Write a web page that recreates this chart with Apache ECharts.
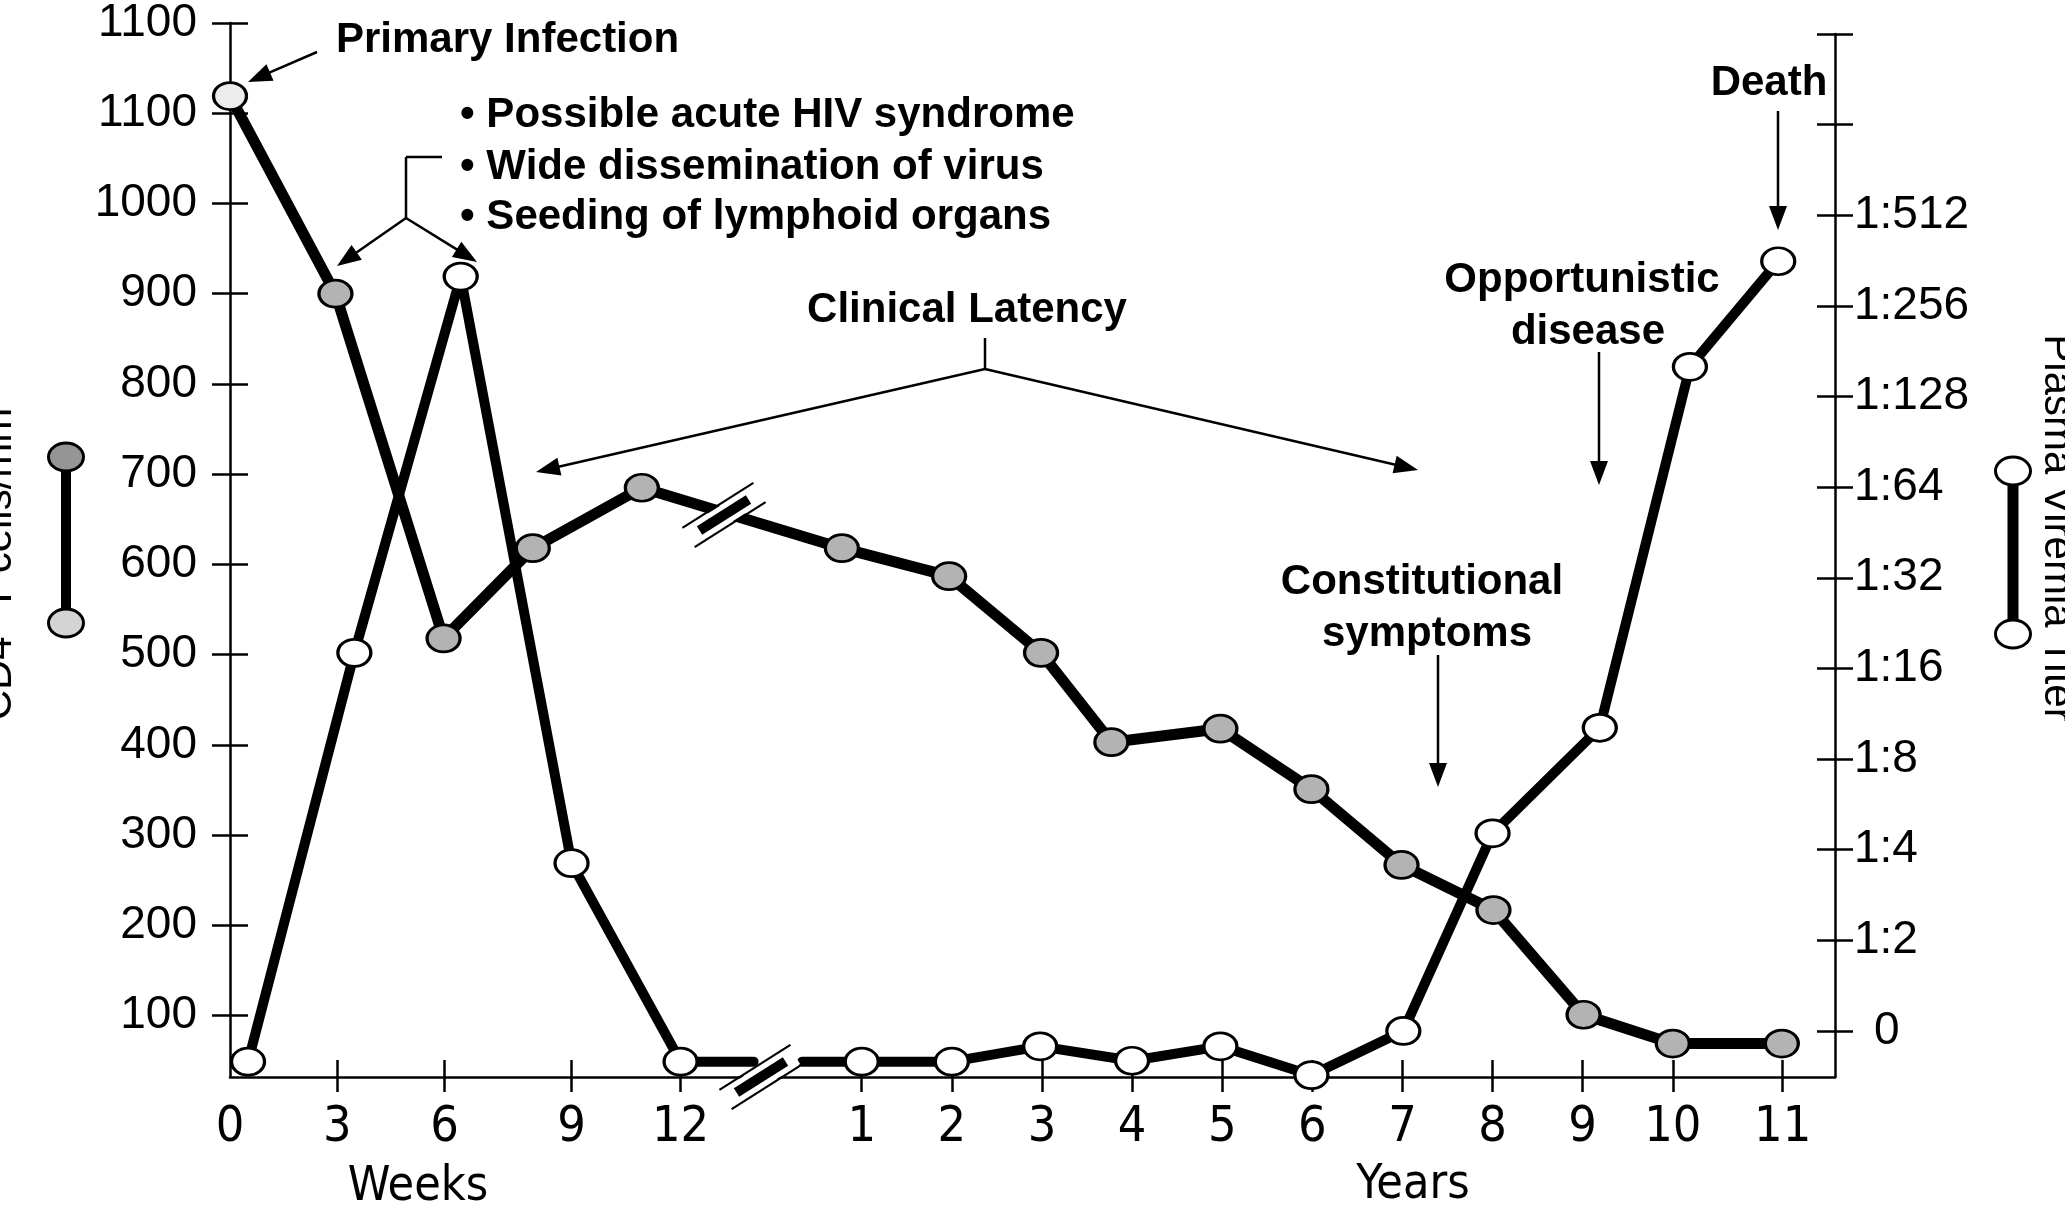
<!DOCTYPE html>
<html>
<head>
<meta charset="utf-8">
<script src="https://cdn.jsdelivr.net/npm/echarts@6/dist/echarts.min.js"></script>
<style>
  html, body { margin: 0; padding: 0; background: #fff; }
  #chart { width: 2065px; height: 1212px; }
</style>
</head>
<body>
<div id="chart"></div>
<script>
// broken time axis: years sit on whole numbers, the first 12 weeks are squeezed in left of the break
const xTickPos = [-6.01, -4.82, -3.63, -2.22, -1.01, 1, 2, 3, 4, 5, 6, 7, 8, 9, 10, 11.22];
const xTickLabels = ['0', '3', '6', '9', '12', '1', '2', '3', '4', '5', '6', '7', '8', '9', '10', '11'];

// left scale (the top label really says 1100 twice in the original)
const cd4Ticks = [100, 200, 300, 400, 500, 600, 700, 800, 900, 1000, 1100, 1200];
const cd4TickLabels = ['100', '200', '300', '400', '500', '600', '700', '800', '900', '1000', '1100', '1100'];

// right scale, doubling dilutions
const titerTicks = [0, 1, 2, 3, 4, 5, 6, 7, 8, 9, 10, 11];
const titerLabels = ['0', '1:2', '1:4', '1:8', '1:16', '1:32', '1:64', '1:128', '1:256', '1:512', '', ''];

// CD4+ T cells (shaded markers)
const cd4X = [-6.01, -4.84, -3.64, -2.65, -1.44, 0.78, 1.97, 2.99, 3.77, 4.98, 5.99, 6.99, 8.01, 9.01, 10.0, 11.21];
const cd4Y = [1119, 900, 518, 618, 685, 618, 587, 502, 403, 418, 351, 267, 217, 101, 69, 69];

// plasma viremia (white markers), plotted on the left scale like the original
const viralWeekX = [-5.81, -4.63, -3.45, -2.22, -1.01];
const viralWeekY = [49, 502, 919, 269, 49];
const viralYearX = [1, 2, 2.98, 4, 4.98, 5.99, 7.01, 8, 9.19, 10.19, 11.17];
const viralYearY = [49, 49, 66, 50, 66, 34, 83, 302, 419, 819, 936];

const FONT = '"Liberation Sans", Arial, Helvetica, sans-serif';
const NARROW = '"Liberation Sans Narrow", "DejaVu Sans Condensed", "Liberation Sans", Arial, sans-serif';
const X_MIN = -6.01, X_MAX = 11.80;
const BREAK_GAP = [-0.2, 0.34];   // where the viremia line stops/restarts at the break

const chart = echarts.init(document.getElementById('chart'));

const pairs = (xs, ys) => xs.map((x, i) => [x, ys[i]]);
const nearest = (arr, v) => {
  let best = 0;
  arr.forEach((a, i) => { if (Math.abs(a - v) < Math.abs(arr[best] - v)) best = i; });
  return best;
};

const tickStyle = { color: '#000', width: 2.5 };
const gridRect = { left: 230, right: 230, bottom: 135 };

const markerStyle = (fill) => ({ color: fill, borderColor: '#000', borderWidth: 3 });
const lineSeries = (name, data, fill, width) => ({
  name: name,
  type: 'line',
  xAxisIndex: 0,
  yAxisIndex: 0,
  data: data,
  symbol: 'circle',
  symbolSize: [33, 27],
  showAllSymbol: true,
  clip: false,
  itemStyle: markerStyle(fill),
  lineStyle: { color: '#000', width: width, cap: 'round', join: 'round' },
  emphasis: { disabled: true },
  silent: true
});

// cd4: first point is drawn almost white
const cd4Data = pairs(cd4X, cd4Y).map((p, i) =>
  i === 0 ? { value: p, itemStyle: { color: '#ececec' } } : p);

// viremia is interrupted at the axis break
const lastWeek = viralWeekY[viralWeekY.length - 1];
const viralA = pairs(viralWeekX, viralWeekY).concat([{ value: [BREAK_GAP[0], lastWeek], symbol: 'none' }]);
const viralB = [{ value: [BREAK_GAP[1], viralYearY[0]], symbol: 'none' }].concat(pairs(viralYearX, viralYearY));

// ---- annotation helpers (pixel space)
const g = [];
function seg(x1, y1, x2, y2, w, color) {
  g.push({ type: 'line', z: 100, silent: true, shape: { x1, y1, x2, y2 },
    style: { stroke: color || '#000', lineWidth: w || 2.5 } });
}
function arrow(x1, y1, x2, y2) {
  const dx = x2 - x1, dy = y2 - y1, L = Math.hypot(dx, dy);
  const ux = dx / L, uy = dy / L, hl = 24, hw = 9;
  const bx = x2 - ux * hl, by = y2 - uy * hl;
  seg(x1, y1, bx + ux * 2, by + uy * 2, 2.5);
  g.push({ type: 'polygon', z: 100, silent: true,
    shape: { points: [[x2, y2], [bx - uy * hw, by + ux * hw], [bx + uy * hw, by - ux * hw]] },
    style: { fill: '#000' } });
}
function label(text, x, y, size, weight, align, family) {
  g.push({ type: 'text', z: 100, silent: true, x: x, y: y,
    style: { text: text, fill: '#000', font: weight + ' ' + size + 'px ' + (family || FONT),
      align: align, verticalAlign: 'middle', textAlign: align, textVerticalAlign: 'middle' } });
}
function breakMark(cx, cy) {
  const d = [0.845, -0.535], n = [0.535, 0.845];
  const P = (a, b) => [cx + d[0] * a + n[0] * b, cy + d[1] * a + n[1] * b];
  g.push({ type: 'polygon', z: 99, silent: true,
    shape: { points: [P(-40, -10), P(40, -10), P(40, 10), P(-40, 10)] }, style: { fill: '#fff' } });
  g.push({ type: 'polygon', z: 100, silent: true,
    shape: { points: [P(-29, -5), P(29, -5), P(29, 5), P(-29, 5)] }, style: { fill: '#000' } });
  const a1 = P(-42, -11.4), a2 = P(42, -11.4), b1 = P(-42, 11.4), b2 = P(42, 11.4);
  seg(a1[0], a1[1], a2[0], a2[1], 2.2);
  seg(b1[0], b1[1], b2[0], b2[1], 2.2);
}

// Primary infection
label('Primary Infection', 336, 40, 42, 'bold', 'left');
arrow(317, 52, 248, 82);
// acute phase bullets + bracket
label('\u2022 Possible acute HIV syndrome', 460, 115, 42, 'bold', 'left');
label('\u2022 Wide dissemination of virus', 460, 167, 42, 'bold', 'left');
label('\u2022 Seeding of lymphoid organs', 460, 217, 42, 'bold', 'left');
seg(442, 157, 406, 157);
seg(406, 157, 406, 218);
arrow(406, 218, 337, 266);
arrow(406, 218, 477, 262);
// clinical latency
label('Clinical Latency', 967, 310, 42, 'bold', 'center');
seg(985, 338, 985, 369);
arrow(985, 369, 536, 472);
arrow(985, 369, 1418, 470);
// late events
label('Opportunistic', 1582, 280, 42, 'bold', 'center');
label('disease', 1588, 332, 42, 'bold', 'center');
arrow(1599, 352, 1599, 485);
label('Death', 1769, 83, 42, 'bold', 'center');
arrow(1778, 111, 1778, 230);
label('Constitutional', 1422, 582, 42, 'bold', 'center');
label('symptoms', 1427, 634, 42, 'bold', 'center');
arrow(1438, 655, 1438, 787);
// axis names
label('Weeks', 418, 1188, 48, 'normal', 'center', NARROW);
label('Years', 1413, 1186, 48, 'normal', 'center', NARROW);
// rotated titles, mostly cut off by the page edges
g.push({ type: 'text', z: 100, silent: true, x: 20, y: 557, rotation: Math.PI / 2,
  style: { text: 'CD4\u207A T cells/mm\u00B3', fill: '#000', font: 'normal 42px ' + FONT,
    align: 'center', verticalAlign: 'bottom', textAlign: 'center', textVerticalAlign: 'bottom' } });
g.push({ type: 'text', z: 100, silent: true, x: 2036, y: 528, rotation: -Math.PI / 2,
  style: { text: 'Plasma Viremia Titer', fill: '#000', font: 'normal 42px ' + FONT,
    align: 'center', verticalAlign: 'bottom', textAlign: 'center', textVerticalAlign: 'bottom' } });
// key glyphs
seg(66, 457, 66, 623, 10);
g.push({ type: 'ellipse', z: 101, silent: true, shape: { cx: 66, cy: 457, rx: 17.5, ry: 14 },
  style: { fill: '#959595', stroke: '#000', lineWidth: 3 } });
g.push({ type: 'ellipse', z: 101, silent: true, shape: { cx: 66, cy: 623, rx: 17.5, ry: 14 },
  style: { fill: '#d4d4d4', stroke: '#000', lineWidth: 3 } });
seg(2013, 471, 2013, 634, 11);
g.push({ type: 'ellipse', z: 101, silent: true, shape: { cx: 2013, cy: 471, rx: 17.5, ry: 14 },
  style: { fill: '#fff', stroke: '#000', lineWidth: 3 } });
g.push({ type: 'ellipse', z: 101, silent: true, shape: { cx: 2013, cy: 634, rx: 17.5, ry: 14 },
  style: { fill: '#fff', stroke: '#000', lineWidth: 3 } });
// break marks on the cd4 line and on the time axis
breakMark(724, 515);
breakMark(761, 1077);

const hiddenX = (gi) => ({ gridIndex: gi, type: 'value', min: X_MIN, max: X_MAX, show: false });

const option = {
  animation: false,
  backgroundColor: '#fff',
  grid: [
    Object.assign({ top: 23 }, gridRect),
    Object.assign({ top: 23 }, gridRect),
    Object.assign({ top: 34 }, gridRect),
    Object.assign({ top: 34 }, gridRect)
  ],
  xAxis: [
    {
      gridIndex: 0, type: 'value', min: X_MIN, max: X_MAX, position: 'bottom',
      axisLine: { show: true, onZero: false, lineStyle: tickStyle },
      axisTick: { show: true, customValues: xTickPos.slice(1), length: 15, lineStyle: tickStyle },
      axisLabel: {
        customValues: xTickPos, margin: 26, color: '#000', fontSize: 50, fontFamily: NARROW,
        formatter: (v) => xTickLabels[nearest(xTickPos, v)]
      },
      splitLine: { show: false }
    },
    {
      gridIndex: 1, type: 'value', min: X_MIN, max: X_MAX, position: 'bottom',
      axisLine: { show: false, onZero: false },
      axisTick: { show: true, inside: true, customValues: xTickPos.slice(1), length: 17, lineStyle: tickStyle },
      axisLabel: { show: false },
      splitLine: { show: false }
    },
    hiddenX(2),
    hiddenX(3)
  ],
  yAxis: [
    {
      gridIndex: 0, type: 'value', min: 32, max: 1200, position: 'left',
      axisLine: { show: true, onZero: false, lineStyle: tickStyle },
      axisTick: { show: true, customValues: cd4Ticks, length: 18, lineStyle: tickStyle },
      axisLabel: {
        customValues: cd4Ticks, margin: 33, color: '#000', fontSize: 46, fontFamily: FONT,
        formatter: (v) => cd4TickLabels[nearest(cd4Ticks, v)]
      },
      splitLine: { show: false }
    },
    {
      gridIndex: 1, type: 'value', min: 32, max: 1200, position: 'left',
      axisLine: { show: false, onZero: false },
      axisTick: { show: true, inside: true, customValues: cd4Ticks, length: 18, lineStyle: tickStyle },
      axisLabel: { show: false },
      splitLine: { show: false }
    },
    {
      gridIndex: 2, type: 'value', min: -0.508, max: 11, position: 'right',
      axisLine: { show: true, onZero: false, lineStyle: tickStyle },
      axisTick: { show: true, customValues: titerTicks, length: 18, lineStyle: tickStyle },
      axisLabel: {
        customValues: titerTicks.slice(0, 10), margin: 19, color: '#000', fontSize: 46, fontFamily: FONT,
        formatter: (v) => {
          const t = titerLabels[nearest(titerTicks, v)];
          return t === '0' ? '{pad|0}' : t;
        },
        rich: { pad: { padding: [0, 0, 0, 20], fontSize: 46, fontFamily: FONT, color: '#000' } }
      },
      splitLine: { show: false }
    },
    {
      gridIndex: 3, type: 'value', min: -0.508, max: 11, position: 'right',
      axisLine: { show: false, onZero: false },
      axisTick: { show: true, inside: true, customValues: titerTicks, length: 18, lineStyle: tickStyle },
      axisLabel: { show: false },
      splitLine: { show: false }
    }
  ],
  series: [
    lineSeries('Plasma viremia (weeks)', viralA, '#ffffff', 10),
    lineSeries('Plasma viremia (years)', viralB, '#ffffff', 10),
    lineSeries('CD4+ T cells', cd4Data, '#b3b3b3', 11)
  ],
  graphic: g
};

chart.setOption(option);
</script>
</body>
</html>
